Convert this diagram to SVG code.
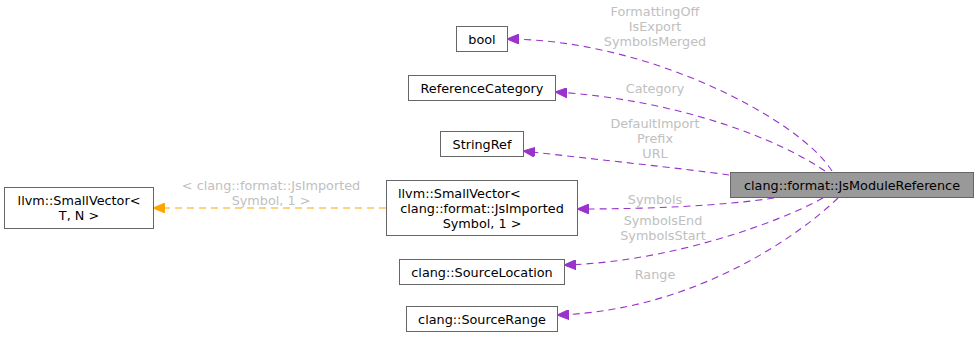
<svg xmlns="http://www.w3.org/2000/svg" width="979" height="339" viewBox="0 0 979 339">
<style>
  text { font-family: "DejaVu Sans", "Liberation Sans", sans-serif; font-size: 12.8px; }
  .box { fill: #ffffff; stroke: #666666; stroke-width: 1; }
  .main { fill: #999999; stroke: #666666; stroke-width: 1; }
  .lbl { fill: #000000; text-anchor: middle; }
  .elbl { fill: #c0c0c0; text-anchor: middle; }
  .uses { fill: none; stroke: #9a32cd; stroke-width: 1.1; stroke-dasharray: 7,5; }
  .tmpl { fill: none; stroke: #ffa500; stroke-width: 1.1; stroke-dasharray: 7,5; }
</style>
<defs>
  <marker id="arrP" viewBox="0 0 12 10" refX="11" refY="5" markerWidth="12" markerHeight="10" markerUnits="userSpaceOnUse" orient="auto">
    <path d="M12,5 L0,0 L0,10 Z" fill="#9a32cd" stroke="#9a32cd"/>
  </marker>
  <marker id="arrO" viewBox="0 0 12 10" refX="11" refY="5" markerWidth="12" markerHeight="10" markerUnits="userSpaceOnUse" orient="auto">
    <path d="M12,5 L0,0 L0,10 Z" fill="#ffa500" stroke="#ffa500"/>
  </marker>
</defs>

<g id="connectors">
  <path class="uses" marker-end="url(#arrP)" d="M832,171 C800,120 650,40 508,39"/>
  <path class="uses" marker-end="url(#arrP)" d="M825,171 C780,140 680,100 556,92"/>
  <path class="uses" marker-end="url(#arrP)" d="M729,175 C680,168 600,160 524,151"/>
  <path class="uses" marker-end="url(#arrP)" d="M774,198 C720,206 650,209 578,209"/>
  <path class="uses" marker-end="url(#arrP)" d="M823,198 C780,222 670,262 565,265"/>
  <path class="uses" marker-end="url(#arrP)" d="M838,198 C805,230 700,310 558,315"/>
  <path class="tmpl" marker-end="url(#arrO)" d="M386,208 L154,208"/>
  <text class="elbl" x="655" y="16">FormattingOff</text>
  <text class="elbl" x="655" y="31">IsExport</text>
  <text class="elbl" x="655" y="46">SymbolsMerged</text>
  <text class="elbl" x="655" y="93">Category</text>
  <text class="elbl" x="655" y="128">DefaultImport</text>
  <text class="elbl" x="655" y="143">Prefix</text>
  <text class="elbl" x="655" y="158">URL</text>
  <text class="elbl" x="655" y="204">Symbols</text>
  <text class="elbl" x="663" y="225">SymbolsEnd</text>
  <text class="elbl" x="663" y="240">SymbolsStart</text>
  <text class="elbl" x="655" y="279">Range</text>
  <text class="elbl" x="271" y="190">&lt; clang::format::JsImported</text>
  <text class="elbl" x="271" y="205">Symbol, 1 &gt;</text>
</g>

<g id="node-main">
  <rect class="main" x="730.5" y="172.5" width="243" height="25"/>
  <text class="lbl" x="852" y="189.5">clang::format::JsModuleReference</text>
</g>
<g id="node-bool">
  <rect class="box" x="456.5" y="26.5" width="51" height="25"/>
  <text class="lbl" x="482" y="43.5">bool</text>
</g>
<g id="node-refcat">
  <rect class="box" x="408.5" y="75.5" width="147" height="25"/>
  <text class="lbl" x="482" y="92.5">ReferenceCategory</text>
</g>
<g id="node-stringref">
  <rect class="box" x="440.5" y="131.5" width="83" height="25"/>
  <text class="lbl" x="482" y="148.5">StringRef</text>
</g>
<g id="node-smallvec-inst">
  <rect class="box" x="386.5" y="180.5" width="191" height="55"/>
  <text x="398" y="198">llvm::SmallVector&lt;</text>
  <text class="lbl" x="482" y="213">clang::format::JsImported</text>
  <text class="lbl" x="482" y="228">Symbol, 1 &gt;</text>
</g>
<g id="node-smallvec">
  <rect class="box" x="4.5" y="187.5" width="149" height="41"/>
  <text class="lbl" x="79" y="205">llvm::SmallVector&lt;</text>
  <text class="lbl" x="79" y="220">T, N &gt;</text>
</g>
<g id="node-sourceloc">
  <rect class="box" x="399.5" y="259.5" width="165" height="25"/>
  <text class="lbl" x="482" y="276.5">clang::SourceLocation</text>
</g>
<g id="node-sourcerange">
  <rect class="box" x="406.5" y="306.5" width="151" height="25"/>
  <text class="lbl" x="482" y="323.5">clang::SourceRange</text>
</g>
</svg>
